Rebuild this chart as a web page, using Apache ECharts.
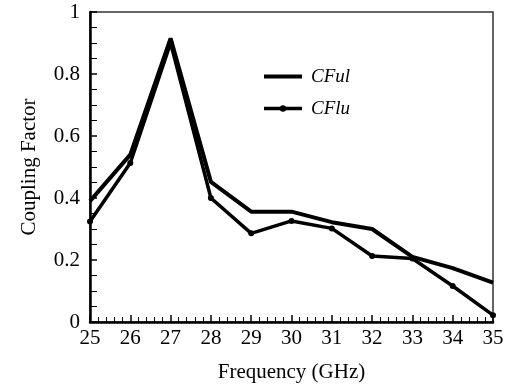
<!DOCTYPE html>
<html>
<head>
<meta charset="utf-8">
<script src="https://cdn.jsdelivr.net/npm/echarts@6/dist/echarts.min.js"></script>
<style>
  html, body { margin: 0; padding: 0; background: #fff; }
  #chart { width: 515px; height: 390px; }
</style>
</head>
<body>
<div id="chart"></div>
<script>
var freq = [25, 26, 27, 28, 29, 30, 31, 32, 33, 34, 35]
var cful = [0.39, 0.54, 0.915, 0.452, 0.356, 0.356, 0.322, 0.30, 0.21, 0.174, 0.127]
var cflu = [0.324, 0.513, 0.90, 0.40, 0.286, 0.326, 0.302, 0.213, 0.205, 0.116, 0.022]

function pairs(xs, ys){
    return xs.map(function(x, i){ return [x, ys[i]] })
}

var serif = "Liberation Serif"
var chart = echarts.init(document.getElementById("chart"))
var option = {
    animation: false,
    grid: { left: 90, right: 22, top: 12, bottom: 68, show: true, borderColor: "#333", borderWidth: 1.5, backgroundColor: "transparent" },
    legend: {
        left: 257, top: 62, orient: "vertical", itemGap: 13, itemWidth: 38, itemHeight: 8,
        textStyle: { fontFamily: serif, fontStyle: "italic", fontSize: 19, color: "#000", padding: [0, 0, 0, 4] },
        data: [
            { name: "CFul", itemStyle: { color: "transparent", borderWidth: 0 }, lineStyle: { width: 4 } },
            { name: "CFlu", lineStyle: { width: 3.5 } }
        ]
    },
    xAxis: {
        type: "value", min: 25, max: 35, interval: 1,
        name: "Frequency (GHz)", nameLocation: "middle", nameGap: 40,
        nameTextStyle: { fontFamily: serif, fontSize: 21, color: "#000" },
        axisLine: { lineStyle: { color: "#000", width: 2.5 } },
        axisTick: { inside: true, length: 7, lineStyle: { color: "#000", width: 1.5 } },
        minorTick: { show: true, splitNumber: 5, length: 5, lineStyle: { color: "#000", width: 1 } },
        axisLabel: { fontFamily: serif, fontSize: 21, color: "#000", margin: 6 },
        splitLine: { show: false }
    },
    yAxis: {
        type: "value", min: 0, max: 1, interval: 0.2,
        name: "Coupling Factor", nameLocation: "middle", nameGap: 50,
        nameTextStyle: { fontFamily: serif, fontSize: 21, color: "#000" },
        axisLine: { show: true, lineStyle: { color: "#000", width: 2.5 } },
        axisTick: { inside: true, length: 7, lineStyle: { color: "#000", width: 1.5 } },
        minorTick: { show: true, splitNumber: 4, length: 7, lineStyle: { color: "#000", width: 1 } },
        axisLabel: {
            fontFamily: serif, fontSize: 21, color: "#000", margin: 10,
            formatter: function(v){ return String(+v.toFixed(1)) }
        },
        splitLine: { show: false }
    },
    series: [
        {
            name: "CFul", type: "line", data: pairs(freq, cful),
            symbol: "none",
            lineStyle: { color: "#000", width: 4 },
            itemStyle: { color: "#000" }
        },
        {
            name: "CFlu", type: "line", data: pairs(freq, cflu),
            symbol: "circle", symbolSize: 6,
            lineStyle: { color: "#000", width: 3.5 },
            itemStyle: { color: "#000" }
        }
    ]
}
chart.setOption(option)
</script>
</body>
</html>
